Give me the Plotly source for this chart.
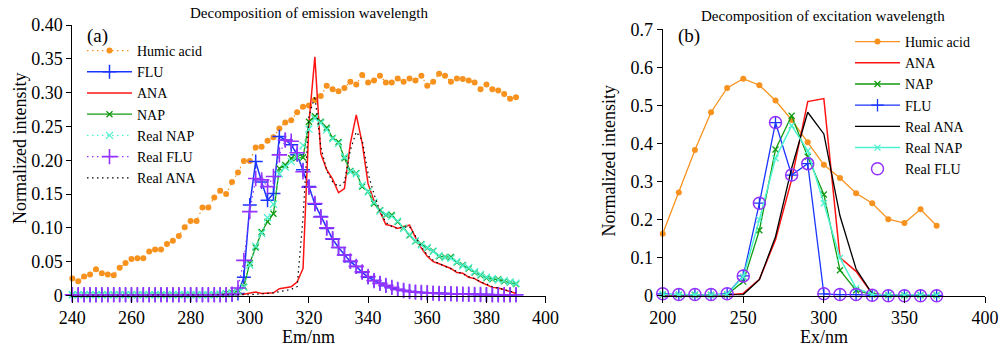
import plotly.graph_objects as go

# ---------------- Panel (a): emission ----------------
em_nm = [240, 242, 244, 246, 248, 250, 252, 254, 256, 258,
         260, 262, 264, 266, 268, 270, 272, 274, 276, 278,
         280, 282, 284, 286, 288, 290, 292, 294, 296, 298,
         300, 302, 304, 306, 308, 310, 312, 314, 316, 318,
         320, 322, 324, 326, 328, 330, 332, 334, 336, 338,
         340, 342, 344, 346, 348, 350, 352, 354, 356, 358,
         360, 362, 364, 366, 368, 370, 372, 374, 376, 378,
         380, 382, 384, 386, 388, 390]

humic_em = [0.025, 0.021, 0.028, 0.031, 0.039, 0.033, 0.031, 0.030, 0.041, 0.048,
            0.054, 0.055, 0.055, 0.065, 0.068, 0.068, 0.076, 0.081, 0.088, 0.101,
            0.110, 0.110, 0.130, 0.130, 0.145, 0.155, 0.150, 0.168, 0.182, 0.199,
            0.199, 0.219, 0.220, 0.229, 0.234, 0.247, 0.256, 0.259, 0.271, 0.279,
            0.281, 0.289, 0.295, 0.310, 0.305, 0.302, 0.307, 0.316, 0.312, 0.326,
            0.315, 0.318, 0.325, 0.315, 0.315, 0.321, 0.316, 0.321, 0.318, 0.325,
            0.310, 0.316, 0.328, 0.325, 0.316, 0.321, 0.320, 0.318, 0.315, 0.305,
            0.312, 0.305, 0.303, 0.298, 0.291, 0.293]

flu_em = [0.001, 0.001, 0.001, 0.001, 0.001, 0.001, 0.001, 0.001, 0.001, 0.001,
          0.001, 0.001, 0.001, 0.001, 0.001, 0.001, 0.001, 0.001, 0.001, 0.001,
          0.001, 0.001, 0.001, 0.001, 0.001, 0.001, 0.001, 0.001, 0.003, 0.027,
          0.134, 0.198, 0.168, 0.141, 0.151, 0.235, 0.230, 0.223, 0.208, 0.186,
          0.161, 0.135, 0.117, 0.099, 0.083, 0.071, 0.060, 0.050, 0.043, 0.034,
          0.027, 0.022, 0.018, 0.0145, 0.0115, 0.009, 0.0075, 0.006, 0.005, 0.0045,
          0.004, 0.0035, 0.003, 0.0028, 0.0025, 0.0022, 0.002, 0.0018, 0.0016, 0.0014,
          0.0013, 0.0012, 0.0011, 0.001, 0.001, 0.001]

ana_em = [0.0, 0.0, 0.0, 0.0, 0.0, 0.0, 0.0, 0.0, 0.0, 0.0,
          0.0, 0.0, 0.0, 0.0, 0.0, 0.0, 0.0, 0.0, 0.0, 0.0,
          0.0, 0.0, 0.0, 0.0, 0.0, 0.0, 0.0, 0.0, 0.001, 0.002,
          0.004, 0.005, 0.003, 0.003, 0.004, 0.010, 0.012, 0.013, 0.020, 0.040,
          0.255, 0.353, 0.210, 0.186, 0.172, 0.152, 0.158, 0.225, 0.267, 0.225,
          0.165, 0.140, 0.124, 0.105, 0.103, 0.099, 0.102, 0.104, 0.086, 0.070,
          0.058, 0.050, 0.047, 0.043, 0.040, 0.034, 0.033, 0.027, 0.025, 0.020,
          0.016, 0.012, 0.011, 0.009, 0.006, 0.003]

nap_em = [0.001, 0.001, 0.001, 0.001, 0.001, 0.001, 0.001, 0.001, 0.001, 0.001,
          0.001, 0.001, 0.001, 0.001, 0.001, 0.001, 0.001, 0.001, 0.001, 0.001,
          0.001, 0.001, 0.001, 0.001, 0.001, 0.002, 0.003, 0.004, 0.007, 0.013,
          0.048, 0.071, 0.094, 0.109, 0.121, 0.188, 0.193, 0.203, 0.204, 0.204,
          0.257, 0.265, 0.257, 0.248, 0.233, 0.227, 0.203, 0.184, 0.181, 0.161,
          0.154, 0.136, 0.126, 0.119, 0.119, 0.109, 0.100, 0.089, 0.080, 0.076,
          0.070, 0.066, 0.058, 0.057, 0.057, 0.049, 0.045, 0.040, 0.034, 0.030,
          0.026, 0.024, 0.024, 0.021, 0.0195, 0.017]

real_nap_em = [0.001, 0.001, 0.001, 0.001, 0.001, 0.001, 0.001, 0.001, 0.001, 0.001,
               0.001, 0.001, 0.001, 0.001, 0.001, 0.001, 0.001, 0.001, 0.001, 0.001,
               0.001, 0.001, 0.001, 0.001, 0.001, 0.002, 0.002, 0.003, 0.006, 0.012,
               0.045, 0.073, 0.092, 0.115, 0.135, 0.180, 0.190, 0.198, 0.206, 0.222,
               0.246, 0.262, 0.255, 0.245, 0.232, 0.225, 0.205, 0.183, 0.180, 0.163,
               0.153, 0.138, 0.125, 0.120, 0.117, 0.110, 0.099, 0.090, 0.081, 0.075,
               0.071, 0.065, 0.059, 0.056, 0.055, 0.050, 0.044, 0.041, 0.035, 0.031,
               0.027, 0.025, 0.023, 0.022, 0.020, 0.018]

real_flu_em = [0.001, 0.001, 0.001, 0.001, 0.001, 0.001, 0.001, 0.001, 0.001, 0.001,
               0.001, 0.001, 0.001, 0.001, 0.001, 0.001, 0.001, 0.001, 0.001, 0.001,
               0.001, 0.001, 0.001, 0.001, 0.001, 0.001, 0.001, 0.002, 0.011, 0.052,
               0.124, 0.173, 0.171, 0.161, 0.176, 0.208, 0.230, 0.228, 0.211, 0.183,
               0.160, 0.136, 0.116, 0.100, 0.084, 0.071, 0.060, 0.051, 0.043, 0.035,
               0.028, 0.022, 0.018, 0.015, 0.012, 0.009, 0.0075, 0.006, 0.005, 0.0045,
               0.004, 0.0035, 0.003, 0.0028, 0.0025, 0.0022, 0.002, 0.0018, 0.0016, 0.0014,
               0.0013, 0.0012, 0.0011, 0.001, 0.001, 0.001]

real_ana_em = [0.0, 0.0, 0.0, 0.0, 0.0, 0.0, 0.0, 0.0, 0.0, 0.0,
               0.0, 0.0, 0.0, 0.0, 0.0, 0.0, 0.0, 0.0, 0.0, 0.0,
               0.0, 0.0, 0.0, 0.0, 0.0, 0.0, 0.0, 0.0, 0.0, 0.0,
               0.001, 0.002, 0.002, 0.003, 0.004, 0.006, 0.008, 0.009, 0.013, 0.115,
               0.265, 0.295, 0.220, 0.185, 0.168, 0.161, 0.168, 0.215, 0.242, 0.230,
               0.180, 0.150, 0.125, 0.108, 0.102, 0.099, 0.101, 0.102, 0.088, 0.072,
               0.060, 0.052, 0.047, 0.043, 0.040, 0.035, 0.032, 0.028, 0.025, 0.020,
               0.017, 0.013, 0.011, 0.009, 0.006, 0.004]

em_xticks = [240, 260, 280, 300, 320, 340, 360, 380, 400]
em_yticks = [0, 0.05, 0.10, 0.15, 0.20, 0.25, 0.30, 0.35, 0.40]
em_yticktext = ["0", "0.05", "0.10", "0.15", "0.20", "0.25", "0.30", "0.35", "0.40"]

# ---------------- Panel (b): excitation ----------------
ex_nm = [200, 210, 220, 230, 240, 250, 260, 270, 280, 290,
         300, 310, 320, 330, 340, 350, 360, 370]
humic_ex = [0.163, 0.271, 0.383, 0.482, 0.546, 0.570, 0.553, 0.513, 0.462, 0.403,
            0.344, 0.309, 0.269, 0.243, 0.201, 0.191, 0.227, 0.184]
ana_ex = [0.001, 0.001, 0.001, 0.001, 0.002, 0.006, 0.043, 0.147, 0.305, 0.510,
          0.518, 0.100, 0.064, 0.005, 0.001, 0.0, 0.0, 0.0]
nap_ex = [0.003, 0.002, 0.002, 0.002, 0.003, 0.037, 0.172, 0.384, 0.473, 0.365,
          0.266, 0.067, 0.014, 0.003, 0.001, 0.001, 0.001, 0.001]
flu_ex = [0.005, 0.003, 0.003, 0.003, 0.005, 0.052, 0.243, 0.455, 0.317, 0.347,
          0.005, 0.003, 0.003, 0.001, 0.001, 0.001, 0.001, 0.001]
real_ana_ex = [0.002, 0.002, 0.002, 0.002, 0.002, 0.003, 0.042, 0.155, 0.335, 0.482,
               0.425, 0.210, 0.070, 0.005, 0.001, 0.0, 0.0, 0.0]
real_nap_ex = [0.004, 0.003, 0.003, 0.002, 0.004, 0.050, 0.200, 0.361, 0.447, 0.381,
               0.243, 0.099, 0.020, 0.004, 0.002, 0.002, 0.002, 0.002]
real_flu_ex = [0.005, 0.003, 0.003, 0.003, 0.005, 0.052, 0.243, 0.455, 0.317, 0.347,
               0.005, 0.003, 0.003, 0.001, 0.0, 0.0, 0.0, 0.0]

ex_xticks = [200, 250, 300, 350, 400]
ex_yticks = [0, 0.1, 0.2, 0.3, 0.4, 0.5, 0.6, 0.7]
ex_yticktext = ["0", "0.1", "0.2", "0.3", "0.4", "0.5", "0.6", "0.7"]

# ---------------- colours ----------------
ORANGE = "#F7921E"
BLUE = "#1A35FF"
RED = "#FF1414"
GREEN = "#129A12"
CYAN = "#4DF2CF"
PURPLE = "#9632FF"
BLACK = "#000000"

FONT = "Liberation Serif"
SPARSE_DOT = "1.5px,3.5px"

fig = go.Figure()

# ---- panel (a) traces ----
fig.add_trace(go.Scatter(x=em_nm, y=humic_em, name="Humic acid", mode="lines+markers",
                         line=dict(color=ORANGE, width=1.2, dash=SPARSE_DOT),
                         marker=dict(symbol="circle", size=6, color=ORANGE),
                         xaxis="x", yaxis="y", legend="legend", cliponaxis=False))
fig.add_trace(go.Scatter(x=em_nm, y=flu_em, name="FLU", mode="lines+markers",
                         line=dict(color=BLUE, width=1.5),
                         marker=dict(symbol="cross-thin", size=10, color=BLUE,
                                     line=dict(color=BLUE, width=1.5)),
                         xaxis="x", yaxis="y", legend="legend", cliponaxis=False))
fig.add_trace(go.Scatter(x=em_nm, y=ana_em, name="ANA", mode="lines",
                         line=dict(color=RED, width=1.5),
                         xaxis="x", yaxis="y", legend="legend", cliponaxis=False))
fig.add_trace(go.Scatter(x=em_nm, y=nap_em, name="NAP", mode="lines+markers",
                         line=dict(color=GREEN, width=1.3),
                         marker=dict(symbol="x-thin", size=6, color=GREEN,
                                     line=dict(color=GREEN, width=1.3)),
                         xaxis="x", yaxis="y", legend="legend", cliponaxis=False))
fig.add_trace(go.Scatter(x=em_nm, y=real_nap_em, name="Real NAP", mode="lines+markers",
                         line=dict(color=CYAN, width=1.2, dash=SPARSE_DOT),
                         marker=dict(symbol="x-thin", size=7, color=CYAN,
                                     line=dict(color=CYAN, width=1.3)),
                         xaxis="x", yaxis="y", legend="legend", cliponaxis=False))
fig.add_trace(go.Scatter(x=em_nm, y=real_flu_em, name="Real FLU", mode="lines+markers",
                         line=dict(color=PURPLE, width=1.2, dash=SPARSE_DOT),
                         marker=dict(symbol="cross-thin", size=11, color=PURPLE,
                                     line=dict(color=PURPLE, width=1.6)),
                         xaxis="x", yaxis="y", legend="legend", cliponaxis=False))
fig.add_trace(go.Scatter(x=em_nm, y=real_ana_em, name="Real ANA", mode="lines",
                         line=dict(color=BLACK, width=1.2, dash=SPARSE_DOT),
                         xaxis="x", yaxis="y", legend="legend", cliponaxis=False))

# ---- panel (b) traces ----
fig.add_trace(go.Scatter(x=ex_nm, y=humic_ex, name="Humic acid", mode="lines+markers",
                         line=dict(color=ORANGE, width=1.3),
                         marker=dict(symbol="circle", size=6, color=ORANGE),
                         xaxis="x2", yaxis="y2", legend="legend2", cliponaxis=False))
fig.add_trace(go.Scatter(x=ex_nm, y=ana_ex, name="ANA", mode="lines",
                         line=dict(color=RED, width=1.5),
                         xaxis="x2", yaxis="y2", legend="legend2", cliponaxis=False))
fig.add_trace(go.Scatter(x=ex_nm, y=nap_ex, name="NAP", mode="lines+markers",
                         line=dict(color=GREEN, width=1.3),
                         marker=dict(symbol="x-thin", size=6, color=GREEN,
                                     line=dict(color=GREEN, width=1.3)),
                         xaxis="x2", yaxis="y2", legend="legend2", cliponaxis=False))
fig.add_trace(go.Scatter(x=ex_nm, y=flu_ex, name="FLU", mode="lines+markers",
                         line=dict(color=BLUE, width=1.3),
                         marker=dict(symbol="cross-thin", size=9, color=BLUE,
                                     line=dict(color=BLUE, width=1.3)),
                         xaxis="x2", yaxis="y2", legend="legend2", cliponaxis=False))
fig.add_trace(go.Scatter(x=ex_nm, y=real_ana_ex, name="Real ANA", mode="lines",
                         line=dict(color=BLACK, width=1.3),
                         xaxis="x2", yaxis="y2", legend="legend2", cliponaxis=False))
fig.add_trace(go.Scatter(x=ex_nm, y=real_nap_ex, name="Real NAP", mode="lines+markers",
                         line=dict(color=CYAN, width=1.5),
                         marker=dict(symbol="x-thin", size=6, color=CYAN,
                                     line=dict(color=CYAN, width=1.3)),
                         xaxis="x2", yaxis="y2", legend="legend2", cliponaxis=False))
fig.add_trace(go.Scatter(x=ex_nm, y=real_flu_ex, name="Real FLU", mode="markers",
                         marker=dict(symbol="circle-open", size=12, color=PURPLE,
                                     line=dict(color=PURPLE, width=1.5)),
                         xaxis="x2", yaxis="y2", legend="legend2", cliponaxis=False))

W, H = 1000, 348


def px(x):
    return x / W


def py(y):
    return 1 - y / H


axis_common = dict(showline=True, linecolor="black", linewidth=1, showgrid=False,
                   zeroline=False, ticks="outside", tickcolor="black", tickwidth=1,
                   automargin=False,
                   tickfont=dict(family=FONT, size=18, color="black"))

fig.update_layout(
    template="none",
    width=W, height=H,
    margin=dict(l=0, r=0, t=0, b=0, pad=0, autoexpand=False),
    paper_bgcolor="white", plot_bgcolor="white",
    font=dict(family=FONT, size=18, color="black"),
    xaxis=dict(domain=[px(72.3), px(545.6)], range=[240, 400], anchor="y",
               tickmode="array", tickvals=em_xticks, ticklen=6, **axis_common),
    yaxis=dict(domain=[py(295.5), py(25)], range=[0, 0.40], anchor="x",
               tickmode="array", tickvals=em_yticks, ticktext=em_yticktext,
               ticklen=5, **axis_common),
    xaxis2=dict(domain=[px(662.7), px(985)], range=[200, 400], anchor="y2",
                tickmode="array", tickvals=ex_xticks, ticklen=6, **axis_common),
    yaxis2=dict(domain=[py(295.7), py(29.3)], range=[0, 0.7], anchor="x2",
                tickmode="array", tickvals=ex_yticks, ticktext=ex_yticktext,
                ticklen=5, **axis_common),
    legend=dict(x=px(82), y=py(35), xanchor="left", yanchor="top",
                bgcolor="rgba(0,0,0,0)", borderwidth=0,
                font=dict(family=FONT, size=14, color="black"),
                itemwidth=45, tracegroupgap=0),
    legend2=dict(x=px(850), y=py(26), xanchor="left", yanchor="top",
                 bgcolor="rgba(0,0,0,0)", borderwidth=0,
                 font=dict(family=FONT, size=14, color="black"),
                 itemwidth=45, tracegroupgap=0),
    showlegend=True,
)

annotations = [
    dict(text="Decomposition of emission wavelength", x=px(309), y=py(12.5),
         font=dict(family=FONT, size=15), yanchor="middle"),
    dict(text="Decomposition of excitation wavelength", x=px(823.3), y=py(16),
         font=dict(family=FONT, size=15), yanchor="middle"),
    dict(text="(a)", x=px(97.5), y=py(35.5), font=dict(family=FONT, size=19), yanchor="middle"),
    dict(text="(b)", x=px(689), y=py(35.5), font=dict(family=FONT, size=19), yanchor="middle"),
    dict(text="Em/nm", x=px(308.5), y=0, font=dict(family=FONT, size=18), yanchor="bottom",
         borderpad=0),
    dict(text="Ex/nm", x=px(824), y=0, font=dict(family=FONT, size=18), yanchor="bottom",
         borderpad=0),
    dict(text="Normalized intensity", x=px(20), y=py(149), textangle=-90,
         font=dict(family=FONT, size=18), yanchor="middle"),
    dict(text="Normalized intensity", x=px(608.5), y=py(161), textangle=-90,
         font=dict(family=FONT, size=18), yanchor="middle"),
]
for a in annotations:
    a.update(xref="paper", yref="paper", showarrow=False, xanchor="center")
fig.update_layout(annotations=annotations)

fig.write_html("out.html")
